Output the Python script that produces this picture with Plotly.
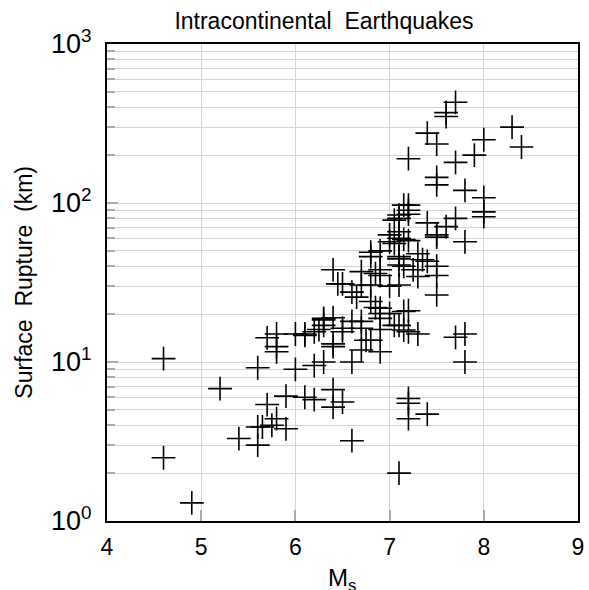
import plotly.graph_objects as go

# Surface-wave magnitude Ms and surface rupture length (km)
ms = [4.6, 4.6, 4.9, 5.2, 5.4, 5.6, 5.6, 5.6, 5.65, 5.7, 5.7, 5.8, 5.8, 5.8, 5.75, 5.8,
      5.9, 5.9, 6.0, 6.0, 6.1, 6.1, 6.2, 6.2, 6.2, 6.3, 6.25, 6.3, 6.4, 6.4, 6.4, 6.4,
      6.5, 6.5, 6.6, 6.6, 6.1, 6.3,
      6.4, 6.45, 6.5, 6.5, 6.4, 6.3, 6.6, 6.7, 6.6, 6.65, 6.7, 6.7, 6.7, 6.75, 6.8, 6.7,
      6.9, 6.8, 6.8, 6.85, 6.85, 6.8, 6.8, 6.9, 6.9, 6.9, 6.9, 6.9, 6.9, 6.9, 7.0, 7.0,
      7.0, 7.0, 7.05, 7.05, 7.05, 7.1, 7.1, 7.1, 7.1, 7.1, 7.1, 7.1, 7.1, 7.15, 7.15,
      7.15, 7.15, 7.15, 7.2, 7.2, 7.2, 7.2, 7.2, 7.25, 7.2, 7.2, 7.3, 7.3, 7.3, 7.35,
      7.4, 7.4, 7.5, 7.5, 7.5, 7.5, 7.5, 7.5, 7.5, 7.5, 7.4, 7.6, 7.6, 7.6, 7.7, 7.7,
      7.7, 7.8, 7.8, 7.9, 8.0, 8.0, 8.0, 8.0, 8.3, 8.4, 7.7, 7.8, 7.8, 7.2, 7.2, 7.4,
      7.1, 7.2, 7.1]
rupture_km = [10.5, 2.5, 1.3, 6.8, 3.3, 9.2, 3.9, 3.0, 3.9, 5.4, 14.2, 15, 12.5, 11.6, 4.0, 4.4,
              6.1, 3.8, 9.0, 15, 15, 6.0, 15.5, 9.5, 5.8, 10, 16, 17, 19, 12.5, 6.7, 5.2,
              5.6, 15.5, 3.2, 10, 14.7, 18.8,
              38, 31, 31, 16.3, 13, 18.4, 18, 18, 27.5, 25.6, 30.5, 37, 16.3, 13.7, 13.7, 11.9,
              11.6, 24, 30.5, 22, 36, 46, 49, 50, 35, 38, 21.8, 20.2, 18.8, 16, 20.2, 30,
              57, 63, 17, 55.6, 78, 30.5, 40.7, 44.5, 60, 66, 80, 84, 17, 40, 59,
              97, 20.8, 15.9, 58, 85, 90, 97, 190, 38, 21, 15.5, 15, 34.5, 48, 44,
              75, 43, 40, 35, 26.4, 61, 63, 130, 145, 235, 275, 71, 350, 370, 430, 180,
              80, 120, 57, 200, 250, 108, 88, 82, 300, 225, 14.3, 15, 10, 5.5, 4.4, 4.7,
              2.0, 5.9, 46]

x_ticks = [4, 5, 6, 7, 8, 9]
y_ticks = [1, 10, 100, 1000]
y_tick_text = ["10<sup>0</sup>", "10<sup>1</sup>", "10<sup>2</sup>", "10<sup>3</sup>"]
y_minor = [m * 10 ** d for d in range(3) for m in range(2, 10)]

title_text = "Intracontinental\u00a0\u00a0Earthquakes"
x_title = "M<sub>s</sub>"
y_title = "Surface\u00a0\u00a0Rupture\u00a0\u00a0(km)"

font_family = "Liberation Sans"

fig = go.Figure()
fig.add_trace(go.Scatter(
    x=ms, y=rupture_km, mode="markers",
    marker=dict(symbol="cross-thin", size=17, line=dict(color="black", width=1.6)),
    showlegend=False, hoverinfo="skip",
))

fig.update_layout(
    width=589, height=590,
    margin=dict(l=107, r=5, t=44, b=69),
    paper_bgcolor="white", plot_bgcolor="white",
    font=dict(family=font_family, color="black", size=22),
    title=dict(text=title_text, x=324 / 589, xanchor="center", xref="container",
               y=1 - 21 / 590, yanchor="middle", yref="container",
               font=dict(size=23, family=font_family)),
    annotations=[
        dict(text=x_title, xref="paper", yref="paper", x=0.498, y=-0.086,
             xanchor="center", yanchor="top", showarrow=False,
             font=dict(size=24, family=font_family)),
        dict(text=y_title, xref="paper", yref="paper", x=-0.178, y=0.5,
             xanchor="center", yanchor="middle", textangle=-90, showarrow=False,
             font=dict(size=23, family=font_family)),
    ],
)

fig.update_xaxes(
    range=[4, 9], tickvals=x_ticks, ticktext=[str(t) for t in x_ticks],
    showgrid=True, gridcolor="#d4d4d4", gridwidth=1,
    showline=True, linecolor="black", linewidth=2, mirror=True,
    ticks="inside", ticklen=11, tickcolor="#aaaaaa", tickwidth=2,
    zeroline=False, tickfont=dict(size=23), ticklabelstandoff=4,
)
fig.update_yaxes(
    type="log", range=[0, 3], tickvals=y_ticks, ticktext=y_tick_text,
    showgrid=True, gridcolor="#d4d4d4", gridwidth=1,
    showline=True, linecolor="black", linewidth=2, mirror=True,
    ticks="inside", ticklen=11, tickcolor="#aaaaaa", tickwidth=2,
    zeroline=False, tickfont=dict(size=27), ticklabelstandoff=8,
    minor=dict(tickvals=y_minor, showgrid=True, gridcolor="#d4d4d4", gridwidth=1,
               ticks="inside", ticklen=8, tickcolor="#aaaaaa", tickwidth=2),
)

fig.write_html("out.html")
